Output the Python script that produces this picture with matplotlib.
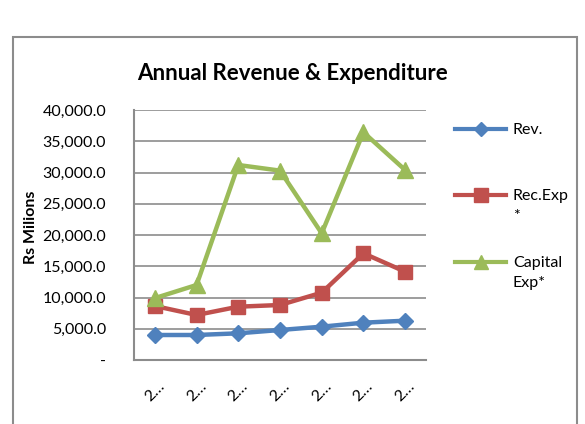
import matplotlib
matplotlib.use("Agg")
import matplotlib.pyplot as plt
from matplotlib.patches import Rectangle
from matplotlib.lines import Line2D

categories = ["2…", "2…", "2…", "2…", "2…", "2…", "2…"]
rev = [4000, 4000, 4270, 4800, 5330, 5970, 6290]
rec_exp = [8640, 7200, 8530, 8800, 10770, 17070, 14130]
cap_exp = [9900, 12000, 31200, 30300, 20270, 36430, 30400]
series_names = ["Rev.", "Rec.Exp\n*", "Capital\nExp*"]
yticks = [0, 5000, 10000, 15000, 20000, 25000, 30000, 35000, 40000]

colors = ["#4F81BD", "#C0504D", "#9BBB59"]
markers = ["D", "s", "^"]
msizes = [8, 10, 11]

plt.rcParams['font.family'] = ['Lato', 'DejaVu Sans']

fig = plt.figure(figsize=(5.85, 4.24), dpi=100)
W, H = 585, 424

def fx(px):
    return px / W

def fy(py):
    return (H - py) / H

# chart border
fig.patches.append(Rectangle((fx(13), -0.1), (577 - 13) / W, 1.1 - 37 / H,
                             transform=fig.transFigure, fill=False,
                             edgecolor="#8c8c8c", linewidth=1.5))

ax = fig.add_axes([fx(134), fy(360), (426 - 134) / W, (360 - 110) / H])
x = list(range(len(categories)))
for vals, c, m, ms, name in zip([rev, rec_exp, cap_exp], colors, markers, msizes, series_names):
    ax.plot(x, vals, color=c, marker=m, markersize=ms, linewidth=3.2,
            label=name, clip_on=False, zorder=3)

ax.set_xlim(-0.5, len(categories) - 0.5)
ax.set_ylim(0, 40000)
ax.set_yticks(yticks)
ax.set_yticklabels(["-" if v == 0 else f"{v:,.1f}" for v in yticks], fontsize=11.5)
ax.set_xticks(x)
ax.set_xticklabels(categories, rotation=45, fontsize=11.5, ha="center")
ax.tick_params(axis="y", length=0, pad=20)
ax.tick_params(axis="x", length=0, pad=14)
ax.grid(axis="y", color="#8c8c8c", linewidth=1.2)
ax.set_axisbelow(True)
for s in ["top", "right"]:
    ax.spines[s].set_visible(False)
for s in ["left", "bottom"]:
    ax.spines[s].set_color("#8c8c8c")
    ax.spines[s].set_linewidth(1.5)

ax.set_ylabel("Rs Milions", fontsize=11.5, fontweight="bold")
ax.yaxis.set_label_coords((38 - 134) / (426 - 134), 0.53)

fig.text(0.5, fy(74), "Annual Revenue & Expenditure", ha="center", va="center",
         fontsize=16, fontweight="bold")

# legend (Excel style: key aligned with first text line)
legend_y = [129, 195, 262]
for name, c, m, ms, ly in zip(series_names, colors, markers, msizes, legend_y):
    fig.add_artist(Line2D([fx(455), fx(506)], [fy(ly), fy(ly)], color=c, linewidth=3,
                          transform=fig.transFigure))
    fig.add_artist(Line2D([fx(480.5)], [fy(ly)], color=c, marker=m, markersize=ms * 0.95,
                          transform=fig.transFigure))
    for i, line in enumerate(name.split("\n")):
        fig.text(fx(513), fy(ly + 1 + i * 20), line, ha="left", va="center", fontsize=11.5)

fig.savefig("out.png", dpi=100)
